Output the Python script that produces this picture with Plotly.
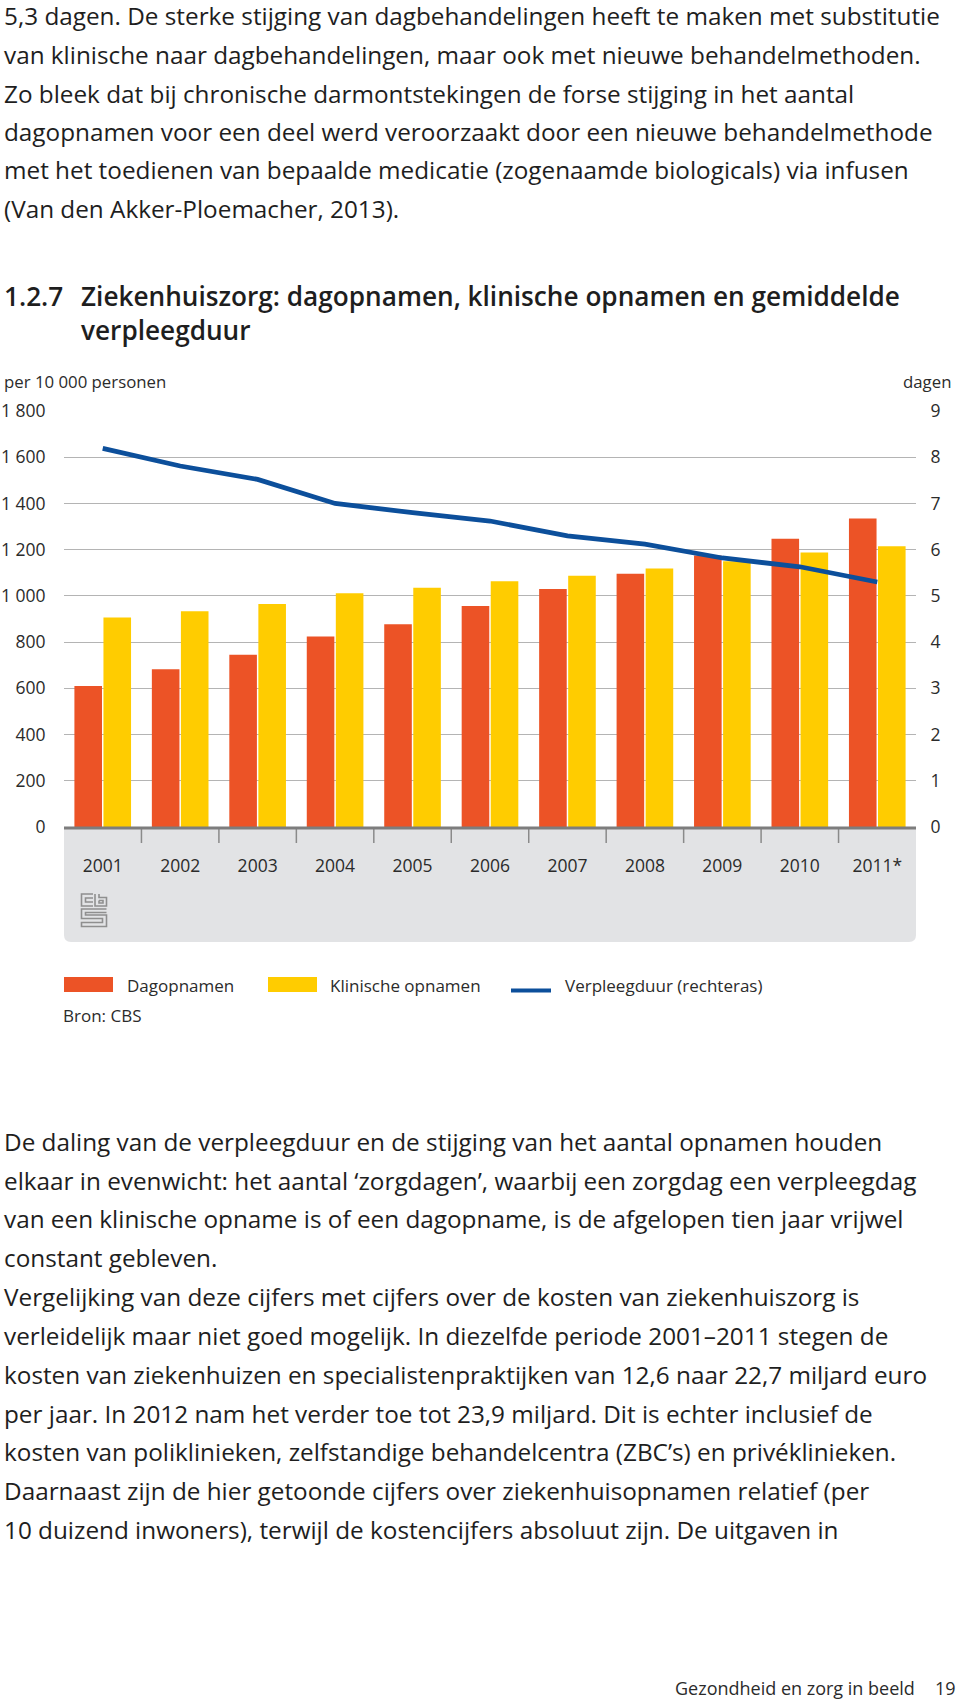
import plotly.graph_objects as go

# ---------------- data ----------------
years = ["2001", "2002", "2003", "2004", "2005", "2006", "2007", "2008", "2009", "2010", "2011*"]
dagopnamen = [610, 683, 745, 824, 877, 956, 1030, 1096, 1175, 1247, 1335]
klinische_opnamen = [906, 933, 965, 1011, 1035, 1063, 1087, 1119, 1150, 1188, 1215]
verpleegduur = [8.19, 7.81, 7.52, 7.00, 6.80, 6.62, 6.30, 6.12, 5.82, 5.63, 5.30]

left_tickvals = [0, 200, 400, 600, 800, 1000, 1200, 1400, 1600, 1800]
left_ticktext = ["0", "200", "400", "600", "800", "1 000", "1 200", "1 400", "1 600", "1 800"]
right_tickvals = [0, 1, 2, 3, 4, 5, 6, 7, 8, 9]
right_ticktext = ["0", "1", "2", "3", "4", "5", "6", "7", "8", "9"]

series_names = ["Dagopnamen", "Klinische opnamen", "Verpleegduur (rechteras)"]

top_text = [
    "5,3 dagen. De sterke stijging van dagbehandelingen heeft te maken met substitutie",
    "van klinische naar dagbehandelingen, maar ook met nieuwe behandelmethoden.",
    "Zo bleek dat bij chronische darmontstekingen de forse stijging in het aantal",
    "dagopnamen voor een deel werd veroorzaakt door een nieuwe behandelmethode",
    "met het toedienen van bepaalde medicatie (zogenaamde biologicals) via infusen",
    "(Van den Akker-Ploemacher, 2013).",
]
bottom_text = [
    "De daling van de verpleegduur en de stijging van het aantal opnamen houden",
    "elkaar in evenwicht: het aantal ‘zorgdagen’, waarbij een zorgdag een verpleegdag",
    "van een klinische opname is of een dagopname, is de afgelopen tien jaar vrijwel",
    "constant gebleven.",
    "Vergelijking van deze cijfers met cijfers over de kosten van ziekenhuiszorg is",
    "verleidelijk maar niet goed mogelijk. In diezelfde periode 2001–2011 stegen de",
    "kosten van ziekenhuizen en specialistenpraktijken van 12,6 naar 22,7 miljard euro",
    "per jaar. In 2012 nam het verder toe tot 23,9 miljard. Dit is echter inclusief de",
    "kosten van poliklinieken, zelfstandige behandelcentra (ZBC’s) en privéklinieken.",
    "Daarnaast zijn de hier getoonde cijfers over ziekenhuisopnamen relatief (per",
    "10 duizend inwoners), terwijl de kostencijfers absoluut zijn. De uitgaven in",
]
title_num = "1.2.7"
title_lines = ["Ziekenhuiszorg: dagopnamen, klinische opnamen en gemiddelde", "verpleegduur"]
left_axis_title = "per 10 000 personen"
right_axis_title = "dagen"
source_text = "Bron: CBS"
footer_text = "Gezondheid en zorg in beeld"
page_number = "19"

# ---------------- styling / geometry ----------------
W, H = 960, 1701
PL, PR, PT, PB = 64, 916, 411, 827
FONT = "'Open Sans', 'Noto Sans', sans-serif"
TXT = "#1e1e1e"
LBL = "#2b2b2b"
ORANGE = "#ec5326"
YELLOW = "#ffcc00"
BLUE = "#0c4f9b"


def xp(px):
    return (px - PL) / (PR - PL)


def yp(py):
    return (PB - py) / (PB - PT)


fig = go.Figure()
fig.add_trace(go.Bar(x=years, y=dagopnamen, name=series_names[0], marker_color=ORANGE,
                     marker_line_width=0))
fig.add_trace(go.Bar(x=years, y=klinische_opnamen, name=series_names[1], marker_color=YELLOW,
                     marker_line_width=0))
fig.add_trace(go.Scatter(x=years, y=verpleegduur, name=series_names[2], yaxis="y2",
                         mode="lines", line=dict(color=BLUE, width=4.8)))

shapes = []
annotations = []

# grey band below the x axis (rounded bottom corners)
r = 7
bx0, bx1, by0, by1 = 64, 916, 828, 942
path = (f"M{xp(bx0)},{yp(by0)} L{xp(bx1)},{yp(by0)} L{xp(bx1)},{yp(by1 - r)} "
        f"Q{xp(bx1)},{yp(by1)} {xp(bx1 - r)},{yp(by1)} L{xp(bx0 + r)},{yp(by1)} "
        f"Q{xp(bx0)},{yp(by1)} {xp(bx0)},{yp(by1 - r)} Z")
shapes.append(dict(type="path", xref="paper", yref="paper", path=path,
                   fillcolor="#e2e3e5", line=dict(width=0), layer="below"))

# category boundary ticks
for i in range(len(years) - 1):
    shapes.append(dict(type="line", xref="x", yref="paper", x0=i + 0.5, x1=i + 0.5,
                       y0=yp(828), y1=yp(843), line=dict(color="#8a8a8a", width=1.5),
                       layer="above"))
# axis line at zero
shapes.append(dict(type="line", xref="paper", yref="paper", x0=0, x1=1, y0=yp(828), y1=yp(828),
                   line=dict(color="#7d7d7d", width=3), layer="above"))

# CBS logo (approximate glyph)
logo_paths = [
    [(93, 894), (81.5, 894), (81.5, 906), (93, 906)],
    [(93, 898), (85.5, 898), (85.5, 902), (93, 902)],
    [(95, 894), (95, 906), (106.5, 906), (106.5, 897.5), (99, 897.5), (99, 894)],
    [(99, 900.5), (103, 900.5), (103, 903), (99, 903), (99, 900.5)],
    [(106.5, 909), (81.5, 909), (81.5, 918.5), (102.5, 918.5), (102.5, 922.5), (81.5, 922.5),
     (81.5, 926.5), (106.5, 926.5), (106.5, 915), (85.5, 915), (85.5, 912.5), (106.5, 912.5)],
]
for pts in logo_paths:
    d = "M" + " L".join(f"{xp(a)},{yp(b)}" for a, b in pts)
    shapes.append(dict(type="path", xref="paper", yref="paper", path=d,
                       line=dict(color="#8f8f8f", width=1.6), layer="above"))

# custom legend
shapes.append(dict(type="rect", xref="paper", yref="paper", x0=xp(64), x1=xp(113),
                   y0=yp(992), y1=yp(977), fillcolor=ORANGE, line=dict(width=0)))
shapes.append(dict(type="rect", xref="paper", yref="paper", x0=xp(268), x1=xp(317),
                   y0=yp(992), y1=yp(977), fillcolor=YELLOW, line=dict(width=0)))
shapes.append(dict(type="line", xref="paper", yref="paper", x0=xp(511), x1=xp(551),
                   y0=yp(990.5), y1=yp(990.5), line=dict(color=BLUE, width=4)))


def add_text(text, x, y, size, anchor="left", color=TXT, weight=None, family=FONT,
             yanchor="middle"):
    f = dict(family=family, size=size, color=color)
    if weight:
        f["weight"] = weight
    annotations.append(dict(text=text, xref="paper", yref="paper", x=xp(x), y=yp(y),
                            xanchor=anchor, yanchor=yanchor, showarrow=False, font=f,
                            borderpad=0, borderwidth=0, align="left"))


add_text(series_names[0], 127, 985, 17, color=LBL)
add_text(series_names[1], 330, 985, 17, color=LBL)
add_text(series_names[2], 565, 985, 17, color=LBL)
add_text(source_text, 63, 1015, 17, color=LBL)

# axis titles
add_text(left_axis_title, 4, 381, 16.8, color=LBL)
add_text(right_axis_title, 951, 381, 16.8, anchor="right", color=LBL)

# title: number and two-line title block share the same top edge
add_text(title_num, 4, 278, 26.2, weight=600, yanchor="top")
add_text("<br>".join(title_lines), 81, 278, 26.2, weight=600, yanchor="top")

# running text
top_y = [15, 54, 93, 131, 170, 208]
for t, y in zip(top_text, top_y):
    add_text(t, 4, y, 24.3)
bottom_y = [1141, 1180, 1218, 1257, 1296, 1335, 1374, 1413, 1451, 1490, 1529]
for t, y in zip(bottom_text, bottom_y):
    add_text(t, 4, y, 24.3)

# footer
add_text(footer_text, 915, 1688, 18, anchor="right", color=LBL)
add_text(page_number, 956, 1688, 18, anchor="right", color=LBL)

fig.update_layout(
    width=W, height=H, autosize=False,
    margin=dict(l=PL, r=W - PR, t=PT, b=H - PB, pad=0, autoexpand=False),
    paper_bgcolor="white", plot_bgcolor="white",
    showlegend=False,
    barmode="group", bargap=0.25, bargroupgap=0.05,
    font=dict(family=FONT, size=17, color=LBL),
    xaxis=dict(type="category", showgrid=False, zeroline=False, showline=False,
               ticks="outside", ticklen=23, tickcolor="rgba(0,0,0,0)", automargin=False,
               tickfont=dict(family=FONT, size=17.5, color=LBL), fixedrange=True),
    yaxis=dict(range=[0, 1800], tickvals=left_tickvals, ticktext=left_ticktext,
               showgrid=True, gridcolor="#b4b4b4", gridwidth=1.2, zeroline=False,
               showline=False, ticks="outside", ticklen=14, tickcolor="rgba(0,0,0,0)",
               automargin=False,
               tickfont=dict(family=FONT, size=17.5, color=LBL), fixedrange=True),
    yaxis2=dict(range=[0, 9], tickvals=right_tickvals, ticktext=right_ticktext,
                overlaying="y", side="right", showgrid=False, zeroline=False, showline=False,
                ticks="outside", ticklen=10, tickcolor="rgba(0,0,0,0)", automargin=False,
                tickfont=dict(family=FONT, size=17.5, color=LBL), fixedrange=True),
    shapes=shapes,
    annotations=annotations,
)

fig.write_html(
    "out.html",
    config={"displayModeBar": False},
    post_script=("document.body.style.margin='0';document.body.style.padding='0';"
                 "document.documentElement.style.overflow='hidden';"
                 "document.body.style.overflow='hidden';"),
)
